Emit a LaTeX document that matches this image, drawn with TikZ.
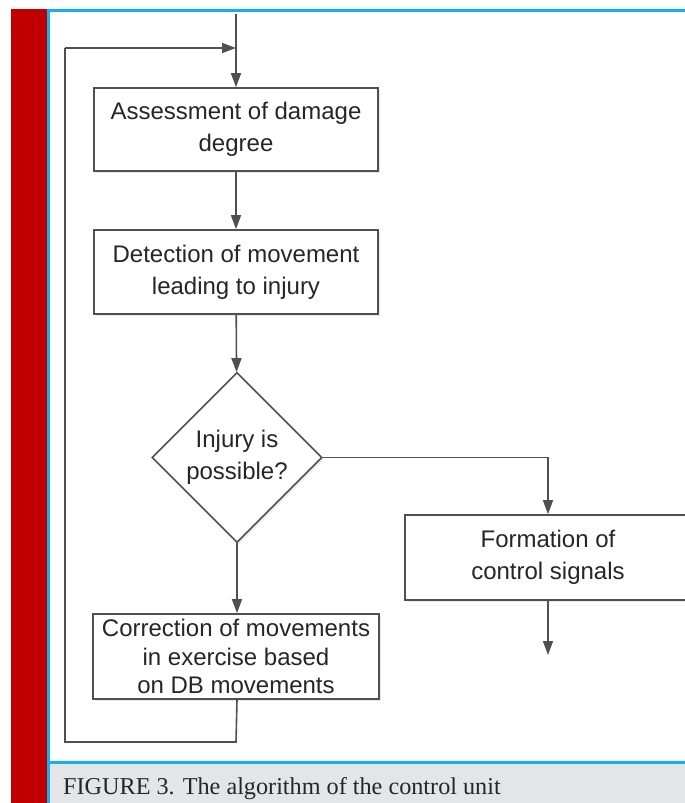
\documentclass[tikz,border=0pt]{standalone}
\usepackage{fontspec}
\setmainfont{Liberation Serif}
\setsansfont{Liberation Sans}
\usetikzlibrary{shapes.geometric,shadows,arrows.meta}
\definecolor{barred}{HTML}{C00000}
\definecolor{framecyan}{HTML}{12B2EE}
\definecolor{capgray}{HTML}{E4E5E7}
\definecolor{flowline}{HTML}{505050}
\tikzset{
  stepbox/.style={draw=flowline,line width=1.6pt,fill=white,align=center,
    font=\sffamily\fontsize{24}{32}\selectfont,text=black!85,
    drop shadow={opacity=0.18,shadow xshift=2pt,shadow yshift=-2pt}},
  decision/.style={diamond,draw=flowline,line width=1.6pt,fill=white,align=center,
    inner sep=0pt,minimum width=170pt,minimum height=170pt,
    font=\sffamily\fontsize{24}{32}\selectfont,text=black!85,
    drop shadow={opacity=0.18,shadow xshift=2pt,shadow yshift=-2pt}},
  flow/.style={draw=flowline,line width=1.6pt,-{Triangle[length=14pt,width=10pt]}},
  plain/.style={draw=flowline,line width=1.6pt}
}
\begin{document}
\begin{tikzpicture}[x=1pt,y=-1pt]
		\useasboundingbox (0,0) rectangle (685,803);
		\clip (0,0) rectangle (685,803);
		% frame and caption
		\fill[barred] (11,9) rectangle (47,803);
		\fill[capgray] (49,764) rectangle (685,803);
		\draw[framecyan,line width=3pt] (48.5,803) -- (48.5,10.5) -- (690,10.5);
		\draw[framecyan,line width=3pt] (48.5,762) -- (690,762);
		\node[anchor=base west,inner sep=0pt,font=\fontsize{24.2}{30}\selectfont,text=black!85] (caption) at (63,794) {FIGURE 3. The algorithm of the control unit};
		% flowchart
		\node[stepbox,minimum width=284pt,minimum height=83pt] (assess) at (236,129.5) {Assessment of damage\\degree};
		\node[stepbox,minimum width=284pt,minimum height=84pt] (detect) at (236,272) {Detection of movement\\leading to injury};
		\node[decision] (injury) at (237,457.5) {Injury is\\possible?};
		\node[stepbox,minimum width=286pt,minimum height=85pt] (signals) at (548,557.5) {Formation of\\control signals};
		\node[stepbox,minimum width=286pt,minimum height=85pt,inner sep=2pt,
		  font=\sffamily\fontsize{24}{28.5}\selectfont] (correct) at (236,656.5) {Correction of movements\\in exercise based\\on DB movements};
		\coordinate (top) at (236,14);
		\coordinate (out) at (548,655);
		\coordinate (loopa) at (236,742);
		\coordinate (loopb) at (65,742);
		\coordinate (loopc) at (65,48);
		\coordinate (join) at (236,48);
		\draw[flow] (top) -- (assess.north);
		\draw[flow] (assess) -- (detect);
		\draw[flow] (detect) -- (injury);
		\draw[flow] (injury.south) -- (injury.south |- correct.north);
		\draw[flow] (injury.east) -| (signals.north);
		\draw[flow] (signals.south) -- (out);
		\draw[plain] (injury.south |- correct.south) -- (loopa) -- (loopb) -- (loopc);
		\draw[flow] (loopc) -- (join);
	\end{tikzpicture}
\end{document}
